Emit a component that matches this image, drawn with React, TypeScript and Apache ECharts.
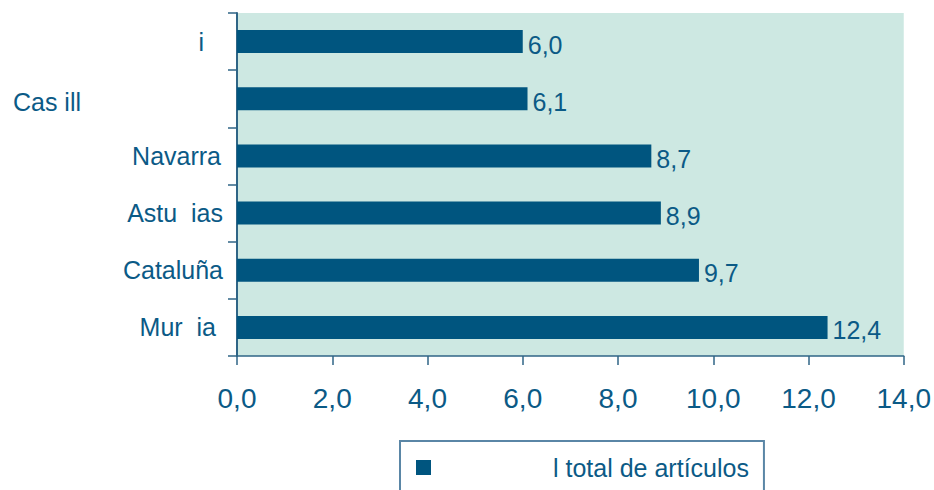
import React, { useEffect, useRef } from "react";
import * as echarts from "echarts";

const categories = ["Mur  ia", "Cataluña", "Astu  ias", "Navarra", "Cas ill", "i"];
const values = [12.4, 9.7, 8.9, 8.7, 6.1, 6.0];
const seriesName = "l total de artículos";
const xMin = 0;
const xMax = 14;
const xStep = 2;

// label right-padding (px) per category index, to mimic original placement
const labelPad = [7, 0, 0, 2, 142, 19];
const labelTopShift = [0, 0, 0, 0, 6, 0];

const FONT = "'Liberation Sans', Arial, Helvetica, sans-serif";
const TEXT = "#0b5a86";
const BAR = "#00557f";
const AXIS = "#2f6586";

export default function App() {
  const ref = useRef<HTMLDivElement>(null);
  useEffect(() => {
    document.body.style.margin = "0";
    const chart = echarts.init(ref.current!, undefined, { renderer: "svg" });
    const rich: Record<string, any> = {};
    categories.forEach((_, i) => {
      rich["c" + i] = {
        fontSize: 25,
        fontFamily: FONT,
        color: TEXT,
        padding: [labelTopShift[i], labelPad[i], 0, 0],
      };
    });
    chart.setOption({
      animation: false,
      backgroundColor: "#ffffff",
      grid: {
        left: 237,
        right: 29,
        top: 13,
        bottom: 134,
        show: true,
        backgroundColor: "#cde8e2",
        borderWidth: 0,
      },
      legend: {
        left: 400,
        top: 441,
        orient: "horizontal",
        padding: [14, 15, 40, 16],
        itemWidth: 15,
        itemHeight: 15,
        icon: "rect",
        borderColor: "#5a86a6",
        borderWidth: 2,
        data: [seriesName],
        textStyle: {
          fontSize: 25,
          fontFamily: FONT,
          color: TEXT,
          lineHeight: 25,
          padding: [0, 0, 0, 117],
        },
      },
      xAxis: {
        type: "value",
        min: xMin,
        max: xMax,
        interval: xStep,
        splitLine: { show: false },
        axisLine: { show: true, lineStyle: { color: AXIS, width: 1.5 } },
        axisTick: { show: true, length: 9, lineStyle: { color: AXIS, width: 1.5 } },
        axisLabel: {
          margin: 28,
          fontSize: 28,
          fontFamily: FONT,
          color: TEXT,
          formatter: (v: number) => v.toFixed(1).replace(".", ","),
        },
      },
      yAxis: {
        type: "category",
        data: categories,
        axisLine: { show: true, lineStyle: { color: AXIS, width: 2 } },
        axisTick: { show: true, length: 9, lineStyle: { color: AXIS, width: 1.5 } },
        axisLabel: {
          margin: 14,
          fontSize: 25,
          fontFamily: FONT,
          color: TEXT,
          formatter: (v: string, i: number) => `{c${i}|${v}}`,
          rich,
        },
      },
      series: [
        {
          name: seriesName,
          type: "bar",
          data: values,
          barWidth: 23,
          itemStyle: { color: BAR },
          label: {
            show: true,
            position: "right",
            distance: 5,
            offset: [0, 3],
            fontSize: 25,
            fontFamily: FONT,
            color: TEXT,
            formatter: (p: any) => Number(p.value).toFixed(1).replace(".", ","),
          },
        },
      ],
    });
    return () => chart.dispose();
  }, []);
  return (
    <div
      ref={ref}
      style={{ position: "absolute", left: 0, top: 0, width: 934, height: 490 }}
    />
  );
}
